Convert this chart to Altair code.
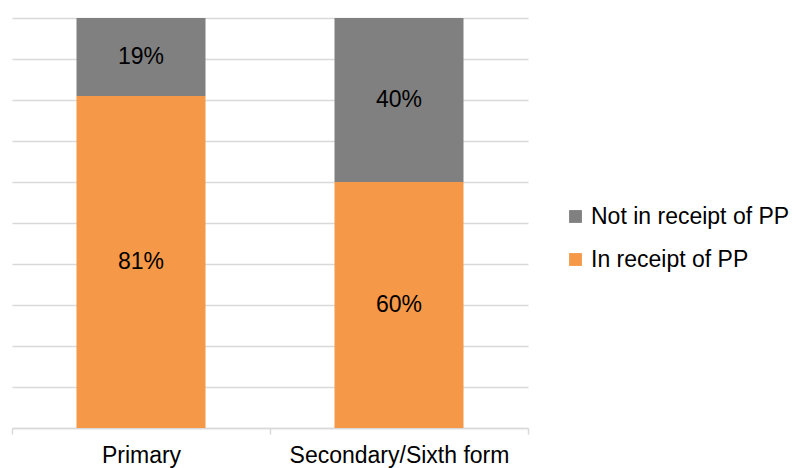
import altair as alt
import pandas as pd

phases = ["Primary", "Secondary/Sixth form"]
in_receipt = [81, 60]
not_in_receipt = [19, 40]
groups = ["In receipt of PP", "Not in receipt of PP"]
colors = ["#F59847", "#808080"]

rows = []
for i, p in enumerate(phases):
    rows.append({"phase": p, "group": groups[0], "value": in_receipt[i], "ord": 0})
    rows.append({"phase": p, "group": groups[1], "value": not_in_receipt[i], "ord": 1})
df = pd.DataFrame(rows)

FONT = "Liberation Sans"
FS = 23

x_axis = alt.Axis(
    labelAngle=0,
    labelFontSize=FS,
    labelFont=FONT,
    labelColor="#000000",
    labelPadding=10,
    labelLimit=400,
    domainColor="#d9d9d9",
    domainWidth=1.5,
    tickColor="#d9d9d9",
    tickWidth=1.5,
    tickSize=6,
    tickBand="extent",
    grid=False,
)
y_axis = alt.Axis(
    values=list(range(0, 101, 10)),
    labels=False,
    ticks=False,
    domain=False,
    gridColor="#d9d9d9",
    gridWidth=1.5,
)
x_scale = alt.Scale(paddingInner=0, paddingOuter=0)
y_scale = alt.Scale(domain=[0, 100], nice=False)

bars = alt.Chart(df).mark_bar(size=129).encode(
    x=alt.X("phase:N", sort=phases, title=None, scale=x_scale, axis=x_axis),
    y=alt.Y("value:Q", stack="zero", title=None, scale=y_scale, axis=y_axis),
    color=alt.Color(
        "group:N",
        scale=alt.Scale(domain=groups, range=colors),
        legend=alt.Legend(
            title=None,
            orient="none",
            legendX=552,
            legendY=187,
            values=[groups[1], groups[0]],
            symbolType="square",
            symbolSize=165,
            symbolStrokeWidth=0,
            labelFontSize=FS,
            labelFont=FONT,
            labelColor="#000000",
            labelOffset=4,
            labelLimit=300,
            rowPadding=19,
            padding=0,
        ),
    ),
    order=alt.Order("ord:Q"),
)

labels = (
    alt.Chart(df)
    .transform_stack(
        stack="value",
        groupby=["phase"],
        as_=["v0", "v1"],
        sort=[alt.SortField("ord", order="ascending")],
    )
    .transform_calculate(mid="(datum.v0 + datum.v1) / 2", lbl="datum.value + '%'")
    .mark_text(fontSize=FS, font=FONT, color="#000000", baseline="middle")
    .encode(
        x=alt.X("phase:N", sort=phases, title=None, scale=x_scale, axis=x_axis),
        y=alt.Y("mid:Q", title=None, scale=y_scale, axis=y_axis),
        text="lbl:N",
    )
)

chart = (
    alt.layer(bars, labels)
    .properties(
        width=516,
        height=410,
        background="white",
        autosize=alt.AutoSizeParams(type="none"),
        padding={"left": 12, "top": 18, "right": 268, "bottom": 40},
    )
    .configure_view(strokeWidth=0, stroke=None)
)

chart.save("out.html", embed_options={"renderer": "svg", "actions": False})
